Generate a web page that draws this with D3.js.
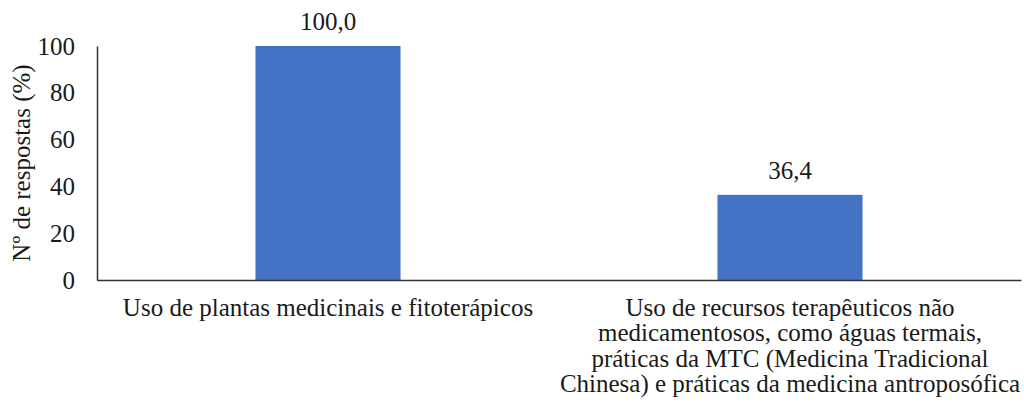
<!DOCTYPE html>
<html><head><meta charset="utf-8">
<script src="https://cdn.jsdelivr.net/npm/d3@7"></script>
</head><body style="margin:0">
<script>
const categories = ["Uso de plantas medicinais e fitoterápicos",
  "Uso de recursos terapêuticos não medicamentosos, como águas termais, práticas da MTC (Medicina Tradicional Chinesa) e práticas da medicina antroposófica"];
const labelLines = [["Uso de plantas medicinais e fitoterápicos"],
  ["Uso de recursos terapêuticos não","medicamentosos, como águas termais,","práticas da MTC (Medicina Tradicional","Chinesa) e práticas da medicina antroposófica"]];
const values = [100.0, 36.4];
const valueLabels = ["100,0", "36,4"];
const yTicks = [0, 20, 40, 60, 80, 100];
const yTitle = "Nº de respostas (%)";

const FONT = '"Liberation Serif"';
const FS = 25;
const W = 1024, H = 407;
const m = {left: 97, right: 3, top: 46, bottom: 127};
const svg = d3.select("body").append("svg").attr("width", W).attr("height", H)
  .attr("font-family", "Liberation Serif");

const x = d3.scaleBand().domain(categories).range([m.left, W - m.right]).padding(0);
const y = d3.scaleLinear().domain([0, 100]).range([H - m.bottom, m.top]);
const barW = x.bandwidth() * 0.314;

svg.selectAll("rect.bar").data(values).join("rect")
  .attr("x", (d, i) => x(categories[i]) + x.bandwidth() / 2 - barW / 2)
  .attr("y", d => y(d))
  .attr("width", barW)
  .attr("height", d => y(0) - y(d))
  .attr("fill", "#4472C4");

svg.selectAll("text.val").data(values).join("text")
  .attr("x", (d, i) => x(categories[i]) + x.bandwidth() / 2)
  .attr("y", d => y(d) - 16)
  .attr("text-anchor", "middle")
  .attr("font-size", FS).attr("fill", "#1a1a1a")
  .attr("font-family", "Liberation Serif")
  .style("font-family", FONT)
  .text((d, i) => valueLabels[i]);

const yAxis = d3.axisLeft(y).tickValues(yTicks).tickSize(0).tickPadding(22).tickFormat(d3.format("d"));
const gy = svg.append("g").attr("transform", `translate(${m.left},0)`).call(yAxis);
gy.attr("font-family", "Liberation Serif");
gy.select(".domain").attr("stroke", "#333").attr("stroke-width", 1.5);
gy.selectAll("text").attr("font-size", FS).attr("fill", "#1a1a1a")
  .attr("font-family", "Liberation Serif").style("font-family", FONT);

const xAxis = d3.axisBottom(x).tickSize(0).tickFormat("");
const gx = svg.append("g").attr("transform", `translate(0,${y(0)})`).call(xAxis);
gx.select(".domain").attr("stroke", "#333").attr("stroke-width", 1.5);

labelLines.forEach((lines, i) => {
  const cx = x(categories[i]) + x.bandwidth() / 2;
  const t = svg.append("text")
    .attr("x", cx)
    .attr("y", y(0) + 36)
    .attr("text-anchor", "middle").attr("font-size", FS).attr("fill", "#1a1a1a")
    .attr("font-family", "Liberation Serif")
    .style("font-family", FONT);
  lines.forEach((l, j) => t.append("tspan")
    .attr("x", cx)
    .attr("dy", j === 0 ? 0 : 25.3).text(l));
});

svg.append("text")
  .attr("transform", `translate(30,${(y(0) + y(100)) / 2}) rotate(-90)`)
  .attr("text-anchor", "middle").attr("font-size", FS).attr("fill", "#1a1a1a")
  .attr("font-family", "Liberation Serif")
  .style("font-family", FONT)
  .text(yTitle);
</script>
</body></html>
